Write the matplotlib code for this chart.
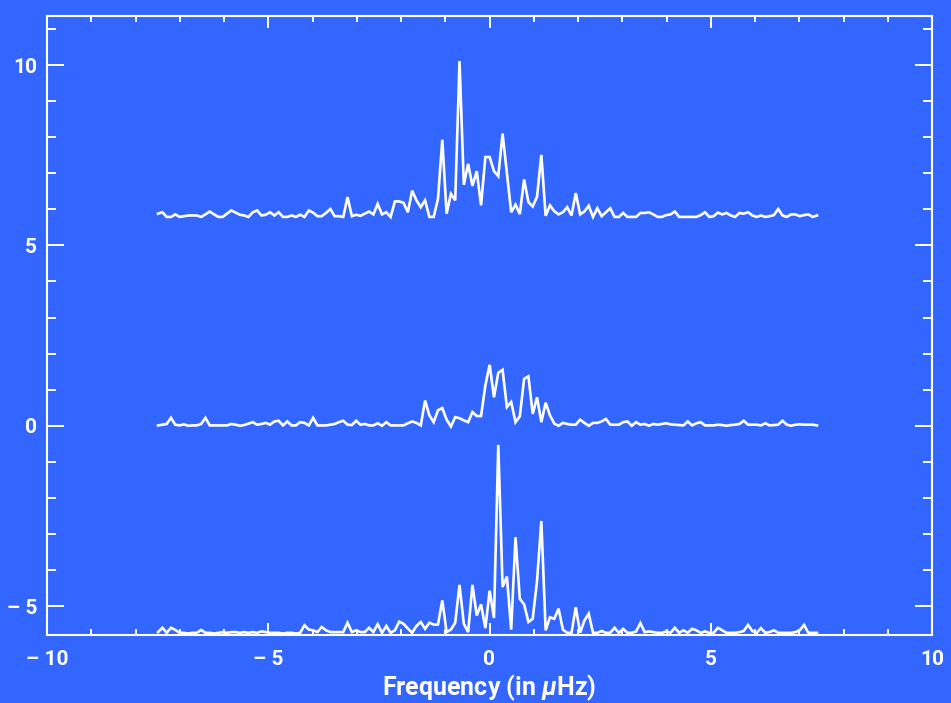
import numpy as np
import matplotlib
matplotlib.use("Agg")
import matplotlib.pyplot as plt
from matplotlib.ticker import MultipleLocator

plt.rcParams["font.family"] = ["Roboto", "DejaVu Sans"]
plt.rcParams["font.weight"] = "bold"
plt.rcParams["mathtext.fontset"] = "custom"
plt.rcParams["mathtext.it"] = "Roboto:italic:bold"
plt.rcParams["mathtext.rm"] = "Roboto:bold"

# Frequency grid (µHz)
freq = np.linspace(-7.49, 7.40, 154)

top = [
    5.88, 5.92, 5.79, 5.79, 5.86, 5.79, 5.81, 5.83, 5.83, 5.83,
    5.79, 5.86, 5.94, 5.86, 5.79, 5.79, 5.88, 5.97, 5.91, 5.85,
    5.83, 5.79, 5.92, 5.97, 5.83, 5.85, 5.92, 5.83, 5.92, 5.79,
    5.79, 5.83, 5.79, 5.85, 5.79, 5.97, 5.91, 5.81, 5.81, 5.90,
    6.01, 5.81, 5.81, 5.79, 6.34, 5.81, 5.85, 5.82, 5.88, 5.94,
    5.86, 6.15, 5.86, 5.92, 5.79, 6.22, 6.22, 6.18, 5.92, 6.52,
    6.25, 6.06, 6.25, 5.79, 5.79, 6.29, 7.93, 5.88, 6.43, 6.25,
    10.11, 6.68, 7.26, 6.65, 7.06, 6.11, 7.45, 7.45, 7.06, 6.92,
    8.10, 7.00, 5.92, 6.13, 5.87, 6.83, 6.20, 6.08, 6.35, 7.51,
    5.82, 6.11, 5.95, 5.86, 5.92, 6.06, 5.83, 6.45, 5.86, 5.94,
    6.10, 5.79, 6.03, 5.81, 5.92, 6.03, 5.79, 5.79, 5.90, 5.79,
    5.79, 5.79, 5.90, 5.90, 5.92, 5.86, 5.79, 5.79, 5.84, 5.86,
    5.94, 5.79, 5.79, 5.79, 5.79, 5.79, 5.84, 5.92, 5.79, 5.81,
    5.91, 5.86, 5.90, 5.83, 5.79, 5.90, 5.88, 5.92, 5.83, 5.79,
    5.83, 5.79, 5.81, 5.84, 6.01, 5.83, 5.79, 5.86, 5.86, 5.81,
    5.84, 5.86, 5.79, 5.83,
]

middle = [
    0.01, 0.03, 0.05, 0.22, 0.03, 0.01, 0.04, 0.00, 0.01, 0.01,
    0.05, 0.22, 0.01, 0.01, 0.01, 0.01, 0.01, 0.05, 0.03, 0.00,
    0.02, 0.06, 0.10, 0.03, 0.05, 0.08, 0.03, 0.12, 0.14, 0.01,
    0.12, 0.01, 0.01, 0.10, 0.08, 0.01, 0.22, 0.01, 0.01, 0.01,
    0.03, 0.05, 0.10, 0.14, 0.03, 0.02, 0.14, 0.03, 0.05, 0.01,
    0.01, 0.07, 0.00, 0.10, 0.01, 0.01, 0.01, 0.01, 0.07, 0.12,
    0.08, 0.01, 0.70, 0.29, 0.10, 0.43, 0.49, 0.17, -0.02, 0.24,
    0.21, 0.15, 0.10, 0.38, 0.27, 0.27, 1.12, 1.69, 0.79, 1.47,
    1.55, 0.52, 0.66, 0.10, 0.26, 1.30, 1.37, 0.33, 0.79, 0.10,
    0.64, 0.29, 0.06, 0.00, 0.08, 0.05, 0.03, 0.03, 0.17, 0.08,
    0.00, 0.08, 0.08, 0.12, 0.19, 0.03, 0.03, 0.03, 0.10, 0.12,
    0.00, 0.10, 0.03, 0.05, 0.00, 0.05, 0.03, 0.05, 0.07, 0.04,
    0.03, 0.02, 0.01, 0.12, 0.01, 0.07, 0.10, 0.01, 0.01, 0.01,
    0.03, 0.02, 0.00, 0.02, 0.03, 0.05, 0.14, 0.03, 0.03, 0.03,
    0.01, 0.07, 0.01, 0.02, 0.03, 0.14, 0.03, 0.00, 0.03, 0.04,
    0.03, 0.03, 0.03, 0.01,
]

bottom = [
    -5.72, -5.60, -5.74, -5.60, -5.66, -5.74, -5.74, -5.76, -5.74, -5.74,
    -5.66, -5.74, -5.74, -5.76, -5.74, -5.72, -5.74, -5.72, -5.72, -5.74,
    -5.72, -5.74, -5.72, -5.74, -5.70, -5.72, -5.74, -5.74, -5.74, -5.76,
    -5.74, -5.74, -5.76, -5.74, -5.53, -5.65, -5.67, -5.72, -5.58, -5.67,
    -5.72, -5.72, -5.72, -5.72, -5.46, -5.72, -5.67, -5.72, -5.72, -5.60,
    -5.72, -5.50, -5.74, -5.55, -5.74, -5.67, -5.43, -5.49, -5.62, -5.74,
    -5.55, -5.44, -5.63, -5.46, -5.51, -5.51, -4.84, -5.72, -5.65, -5.46,
    -4.41, -5.49, -5.72, -4.41, -5.26, -4.95, -5.61, -4.57, -5.33, -0.53,
    -4.47, -4.18, -5.65, -3.09, -4.80, -4.95, -5.44, -5.35, -4.30, -2.64,
    -5.67, -5.31, -5.35, -5.07, -5.65, -5.74, -5.74, -5.03, -5.74, -5.40,
    -5.21, -5.74, -5.74, -5.69, -5.74, -5.74, -5.60, -5.74, -5.63, -5.74,
    -5.74, -5.70, -5.47, -5.72, -5.70, -5.72, -5.74, -5.74, -5.70, -5.74,
    -5.60, -5.74, -5.67, -5.74, -5.63, -5.67, -5.74, -5.70, -5.74, -5.74,
    -5.60, -5.67, -5.74, -5.74, -5.74, -5.72, -5.69, -5.52, -5.69, -5.74,
    -5.61, -5.74, -5.72, -5.67, -5.74, -5.74, -5.74, -5.74, -5.72, -5.67,
    -5.52, -5.74, -5.74, -5.74,
]

x_ticks = [-10, -5, 0, 5, 10]
x_tick_labels = ["\u2013 10", "\u2013 5", "0", "5", "10"]
y_ticks = [-5, 0, 5, 10]
y_tick_labels = ["\u2013 5", "0", "5", "10"]
x_label = r"Frequency (in $\mu$Hz)"

BG = "#3366ff"
FG = "white"

W, H = 951, 703
fig = plt.figure(figsize=(W / 100, H / 100), dpi=100, facecolor=BG)
ax = fig.add_axes([47 / W, (H - 635) / H, (932 - 47) / W, (635 - 16) / H])
ax.set_facecolor(BG)

for series in (top, middle, bottom):
    ax.plot(freq, series, color=FG, lw=1.9, solid_joinstyle="miter")

ax.set_xlim(-10, 10)
ax.set_ylim(-5.80, 11.36)
ax.set_xticks(x_ticks, x_tick_labels)
ax.set_yticks(y_ticks, y_tick_labels)
ax.xaxis.set_minor_locator(MultipleLocator(1))
ax.yaxis.set_minor_locator(MultipleLocator(1))

for s in ax.spines.values():
    s.set_color(FG)
    s.set_linewidth(1.5)

ax.tick_params(axis="x", which="both", direction="in", top=True, bottom=True,
               colors=FG, width=1.4, labelsize=15, pad=11)
ax.tick_params(axis="x", which="major", length=8.4)
ax.tick_params(axis="x", which="minor", length=4.2)
ax.tick_params(axis="y", which="both", direction="in", left=True, right=True,
               colors=FG, width=1.4, labelsize=15, pad=7)
ax.tick_params(axis="y", which="major", length=12.5)
ax.tick_params(axis="y", which="minor", length=6.3)

ax.set_xlabel(x_label, color=FG, fontsize=18, fontweight="bold", labelpad=2)

fig.savefig("out.png", dpi=100, facecolor=BG)
